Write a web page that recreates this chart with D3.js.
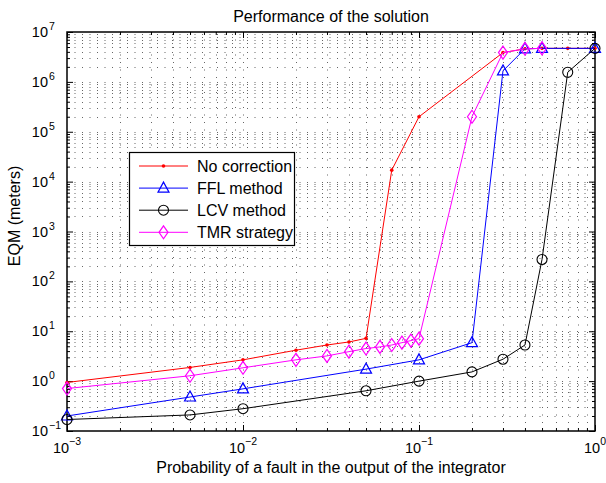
<!DOCTYPE html>
<html>
<head>
<meta charset="utf-8">
<script src="https://cdn.jsdelivr.net/npm/d3@7"></script>
<style>
  body { margin: 0; background: #fff; }
  svg { font-family: "Liberation Sans", Arial, sans-serif; }
</style>
</head>
<body>
<div id="chart"></div>
<script>
// data
var xNoCorr = [0.001, 0.005, 0.01, 0.02, 0.03, 0.04, 0.05, 0.07, 0.1, 0.3, 0.4, 0.5, 0.7, 1];
var yNoCorr = [0.94, 1.88, 2.67, 4.17, 5.3, 6.1, 7.2, 1.7e4, 2.0e5, 3.86e6, 4.6e6, 4.7e6, 4.7e6, 4.7e6];

var xFFL = [0.001, 0.005, 0.01, 0.05, 0.1, 0.2, 0.3, 0.4, 0.5, 1];
var yFFL = [0.2, 0.48, 0.7, 1.74, 2.67, 5.9, 1.66e6, 4.6e6, 4.7e6, 4.7e6];

var xLCV = [0.001, 0.005, 0.01, 0.05, 0.1, 0.2, 0.3, 0.4, 0.5, 0.7, 1];
var yLCV = [0.17, 0.21, 0.28, 0.64, 1.0, 1.53, 2.75, 5.3, 275, 1.56e6, 4.7e6];

var xTMR = [0.001, 0.005, 0.01, 0.02, 0.03, 0.04, 0.05, 0.06, 0.07, 0.08, 0.09, 0.1, 0.2, 0.3, 0.4, 0.5];
var yTMR = [0.71, 1.28, 1.85, 2.67, 3.2, 3.9, 4.5, 4.85, 5.3, 5.9, 6.5, 7.1, 2.0e5, 3.86e6, 4.6e6, 4.7e6];

var seriesNames = ["No correction", "FFL method", "LCV method", "TMR strategy"];
var xTickExp = [-3, -2, -1, 0];
var yTickExp = [-1, 0, 1, 2, 3, 4, 5, 6, 7];

var width = 606;
var height = 483;
var plotLeft = 67, plotRight = 595, plotTop = 32, plotBottom = 431;

var svg = d3.select("#chart")
    .append("svg")
    .attr("width", width)
    .attr("height", height);

var xScale = d3.scaleLog().domain([1e-3, 1]).range([plotLeft, plotRight]);
var yScale = d3.scaleLog().domain([1e-1, 1e7]).range([plotBottom, plotTop]);

// major / minor tick values
var xMajor = xTickExp.map(function (e) { return Math.pow(10, e); });
var yMajor = yTickExp.map(function (e) { return Math.pow(10, e); });
var xMinor = [], yMinor = [];
xTickExp.slice(0, -1).forEach(function (e) {
    for (var k = 2; k <= 9; k++) xMinor.push(k * Math.pow(10, e));
});
yTickExp.slice(0, -1).forEach(function (e) {
    for (var k = 2; k <= 9; k++) yMinor.push(k * Math.pow(10, e));
});

// dotted grid
var grid = svg.append("g").attr("class", "grid")
    .attr("stroke", "#666")
    .attr("stroke-width", 1)
    .attr("stroke-dasharray", "1,6.5");

grid.selectAll("line.gx")
    .data(xMajor.concat(xMinor).filter(function (v) { return v > 1e-3 && v < 1; }))
    .enter().append("line")
    .attr("x1", function (d) { return Math.round(xScale(d)) + 0.5; })
    .attr("x2", function (d) { return Math.round(xScale(d)) + 0.5; })
    .attr("y1", plotTop)
    .attr("y2", plotBottom);

grid.selectAll("line.gy")
    .data(yMajor.concat(yMinor).filter(function (v) { return v > 1e-1 && v < 1e7; }))
    .enter().append("line")
    .attr("y1", function (d) { return Math.round(yScale(d)) + 0.5; })
    .attr("y2", function (d) { return Math.round(yScale(d)) + 0.5; })
    .attr("x1", plotLeft)
    .attr("x2", plotRight);

// axes with inward ticks, all four sides
function addAxis(axisFn, scale, values, size, transform) {
    svg.append("g")
        .attr("transform", transform)
        .call(axisFn(scale).tickValues(values).tickSizeInner(-size).tickSizeOuter(0).tickFormat(""))
        .call(function (g) { g.select(".domain").remove(); });
}
addAxis(d3.axisBottom, xScale, xMajor, 6, `translate(0, ${plotBottom})`);
addAxis(d3.axisBottom, xScale, xMinor, 3, `translate(0, ${plotBottom})`);
addAxis(d3.axisTop, xScale, xMajor, 6, `translate(0, ${plotTop})`);
addAxis(d3.axisTop, xScale, xMinor, 3, `translate(0, ${plotTop})`);
addAxis(d3.axisLeft, yScale, yMajor, 6, `translate(${plotLeft}, 0)`);
addAxis(d3.axisLeft, yScale, yMinor, 3, `translate(${plotLeft}, 0)`);
addAxis(d3.axisRight, yScale, yMajor, 6, `translate(${plotRight}, 0)`);
addAxis(d3.axisRight, yScale, yMinor, 3, `translate(${plotRight}, 0)`);

svg.append("rect")
    .attr("x", plotLeft).attr("y", plotTop)
    .attr("width", plotRight - plotLeft).attr("height", plotBottom - plotTop)
    .attr("fill", "none").attr("stroke", "#000").attr("stroke-width", 1.5);

// tick labels, 10 with exponent
xTickExp.forEach(function (e) {
    var t = svg.append("text")
        .attr("x", xScale(Math.pow(10, e)))
        .attr("y", plotBottom + 22)
        .attr("text-anchor", "middle")
        .attr("font-size", 14.5);
    t.append("tspan").text("10");
    t.append("tspan").attr("dy", -8).attr("font-size", 10.5)
        .text(e < 0 ? "\u2212" + (-e) : e);
});

yTickExp.forEach(function (e) {
    var yy = yScale(Math.pow(10, e));
    svg.append("text")
        .attr("x", 48).attr("y", yy + 5)
        .attr("text-anchor", "end")
        .attr("font-size", 14.5)
        .text("10");
    svg.append("text")
        .attr("x", 49).attr("y", yy - 2)
        .attr("font-size", 10.5)
        .text(e < 0 ? "\u2212" + (-e) : e);
});

// titles
svg.append("text")
    .attr("x", (plotLeft + plotRight) / 2).attr("y", 22)
    .attr("text-anchor", "middle")
    .attr("font-size", 16)
    .text("Performance of the solution");

svg.append("text")
    .attr("x", (plotLeft + plotRight) / 2).attr("y", 473)
    .attr("text-anchor", "middle")
    .attr("font-size", 16)
    .text("Probability of a fault in the output of the integrator");

svg.append("text")
    .attr("transform", "translate(20, 216) rotate(-90)")
    .attr("text-anchor", "middle")
    .attr("font-size", 16)
    .text("EQM (meters)");

// markers
function drawMarker(g, kind, color) {
    if (kind === "dot") {
        g.append("circle").attr("r", 1.8).attr("fill", color);
    } else if (kind === "tri") {
        g.append("path").attr("d", "M0,-6L5.5,4L-5.5,4Z")
            .attr("fill", "none").attr("stroke", color).attr("stroke-width", 1.2);
    } else if (kind === "circ") {
        g.append("circle").attr("r", 5)
            .attr("fill", "none").attr("stroke", color).attr("stroke-width", 1.1);
    } else if (kind === "dia") {
        g.append("path").attr("d", "M0,-6.5L4.5,0L0,6.5L-4.5,0Z")
            .attr("fill", "none").attr("stroke", color).attr("stroke-width", 1.2);
    }
}

var series = [
    { xs: xNoCorr, ys: yNoCorr, color: "#ff0000", marker: "dot" },
    { xs: xFFL, ys: yFFL, color: "#0000ff", marker: "tri" },
    { xs: xLCV, ys: yLCV, color: "#000000", marker: "circ" },
    { xs: xTMR, ys: yTMR, color: "#ff00ff", marker: "dia" }
];

var line = d3.line()
    .x(function (d) { return xScale(d[0]); })
    .y(function (d) { return yScale(d[1]); });

series.forEach(function (s) {
    var pts = s.xs.map(function (x, i) { return [x, s.ys[i]]; });
    svg.append("path")
        .datum(pts)
        .attr("d", line)
        .attr("fill", "none")
        .attr("stroke", s.color)
        .attr("stroke-width", 1);
    pts.forEach(function (p) {
        var g = svg.append("g")
            .attr("transform", `translate(${xScale(p[0])}, ${yScale(p[1])})`);
        drawMarker(g, s.marker, s.color);
    });
});

// legend
var legend = svg.append("g");
legend.append("rect")
    .attr("x", 129.5).attr("y", 152.5)
    .attr("width", 165).attr("height", 93)
    .attr("fill", "#fff").attr("stroke", "#000").attr("stroke-width", 1.2);

series.forEach(function (s, i) {
    var ly = 166 + i * 22.1;
    legend.append("line")
        .attr("x1", 139).attr("x2", 188)
        .attr("y1", ly).attr("y2", ly)
        .attr("stroke", s.color).attr("stroke-width", 1);
    var g = legend.append("g").attr("transform", `translate(163.5, ${ly})`);
    drawMarker(g, s.marker, s.color);
    legend.append("text")
        .attr("x", 197).attr("y", ly + 5.5)
        .attr("font-size", 16)
        .text(seriesNames[i]);
});
</script>
</body>
</html>
